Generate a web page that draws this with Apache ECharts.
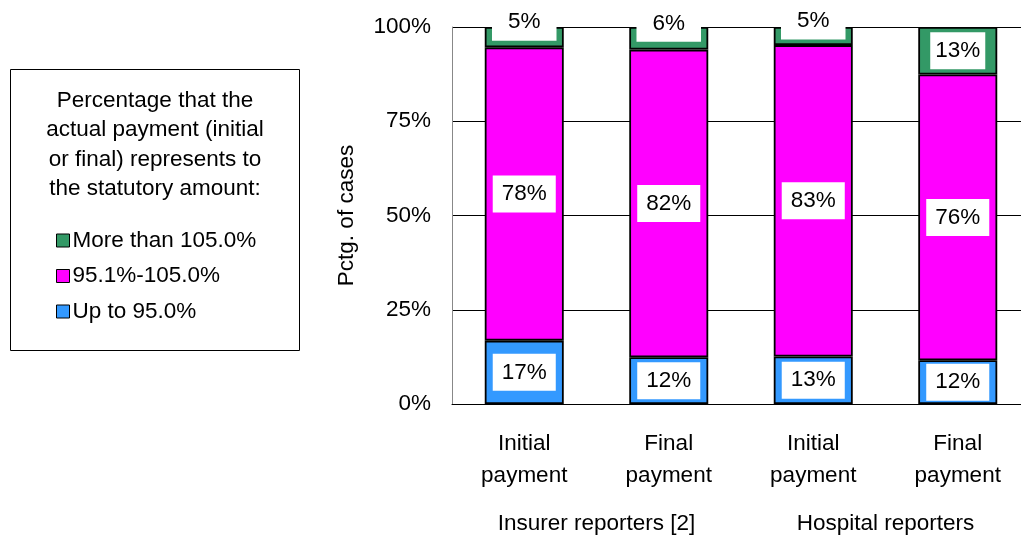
<!DOCTYPE html>
<html><head><meta charset="utf-8">
<script src="https://cdn.jsdelivr.net/npm/echarts@6/dist/echarts.min.js"></script>
<style>html,body{margin:0;padding:0;background:#fff;overflow:hidden;width:1021px;height:535px}#c{width:1030px;height:535px}</style>
</head><body><div id="c"></div>
<script>
const categories = ['Initial\npayment', 'Final\npayment', 'Initial\npayment', 'Final\npayment'];
const groups = ['Insurer reporters [2]', 'Hospital reporters'];
const upTo95 = [16.8, 12.4, 12.6, 11.6];
const mid95to105 = [77.8, 81.6, 82.6, 75.8];
const over105 = [5.4, 6.0, 4.8, 12.6];
const yTicks = [0, 25, 50, 75, 100];
const legendTitle = 'Percentage that the\nactual payment (initial\nor final) represents to\nthe statutory amount:';
const seriesNames = ['Up to 95.0%', '95.1%-105.0%', 'More than 105.0%'];

const FONT = 'Liberation Sans, Arial, sans-serif';
const FS = 22.5;
const chart = echarts.init(document.getElementById('c'));
const lbl = {
  show: true, position: 'inside', color: '#000', fontFamily: FONT, fontSize: FS,
  backgroundColor: '#fff', padding: [6, 9], lineHeight: 25,
  formatter: p => Math.round(p.value) + '%'
};
const mk = (name, data, color, extra) => ({
  name, type: 'bar', stack: 's', barWidth: 79,
  data: data.map((v, i) => extra ? extra(v, i) : v),
  itemStyle: { color, borderColor: '#000', borderWidth: 1.8 },
  label: lbl, emphasis: { disabled: true }
});
chart.setOption({
  animation: false,
  textStyle: { fontFamily: FONT },
  grid: { left: 452, top: 27, width: 578, height: 377 },
  legend: {
    data: [seriesNames[2], seriesNames[1], seriesNames[0]],
    orient: 'vertical', left: 51, top: 224, itemGap: 12.5,
    icon: 'rect', itemWidth: 13, itemHeight: 13,
    itemStyle: { borderColor: '#000', borderWidth: 1 },
    textStyle: { fontFamily: FONT, fontSize: FS, color: '#000', lineHeight: 23, padding: [0, 0, 0, -2] },
    selectedMode: false
  },
  graphic: [
    { type: 'rect', shape: { x: 10.5, y: 69.5, width: 289, height: 281 }, style: { fill: 'none', stroke: '#000', lineWidth: 1 } },
    { type: 'text', x: 155, y: 86, style: { text: legendTitle, textAlign: 'center', textVerticalAlign: 'top', fontFamily: FONT, fontSize: FS, lineHeight: 29.5, fill: '#000' } }
  ],
  xAxis: [
    { type: 'category', data: categories, position: 'bottom',
      axisLine: { lineStyle: { color: '#000', width: 1 } }, axisTick: { show: false },
      axisLabel: { color: '#000', fontFamily: FONT, fontSize: FS, lineHeight: 32, margin: 24, interval: 0 } },
    { type: 'category', data: groups, position: 'bottom', offset: 100,
      axisLine: { show: false }, axisTick: { show: false },
      axisLabel: { color: '#000', fontFamily: FONT, fontSize: FS, margin: 8, interval: 0 } }
  ],
  yAxis: {
    type: 'value', min: 0, max: 100, interval: 25,
    name: 'Pctg. of cases', nameLocation: 'middle', nameGap: 94, nameRotate: 90,
    nameTextStyle: { color: '#000', fontFamily: FONT, fontSize: FS },
    axisLine: { show: true, lineStyle: { color: '#888' } }, axisTick: { show: false },
    splitLine: { lineStyle: { color: '#000', width: 1 } },
    axisLabel: { color: '#000', fontFamily: FONT, fontSize: FS, margin: 21,
      formatter: v => yTicks.includes(v) ? v + '%' : '' }
  },
  series: [
    mk(seriesNames[0], upTo95, '#3399FF'),
    mk(seriesNames[1], mid95to105, '#FF00FF'),
    mk(seriesNames[2], over105, '#339966', (v, i) => i < 3 ? { value: v, label: { offset: [0, -15], padding: [6, 16] } } : { value: v, label: { padding: [6, 5] } })
  ]
});
</script></body></html>
